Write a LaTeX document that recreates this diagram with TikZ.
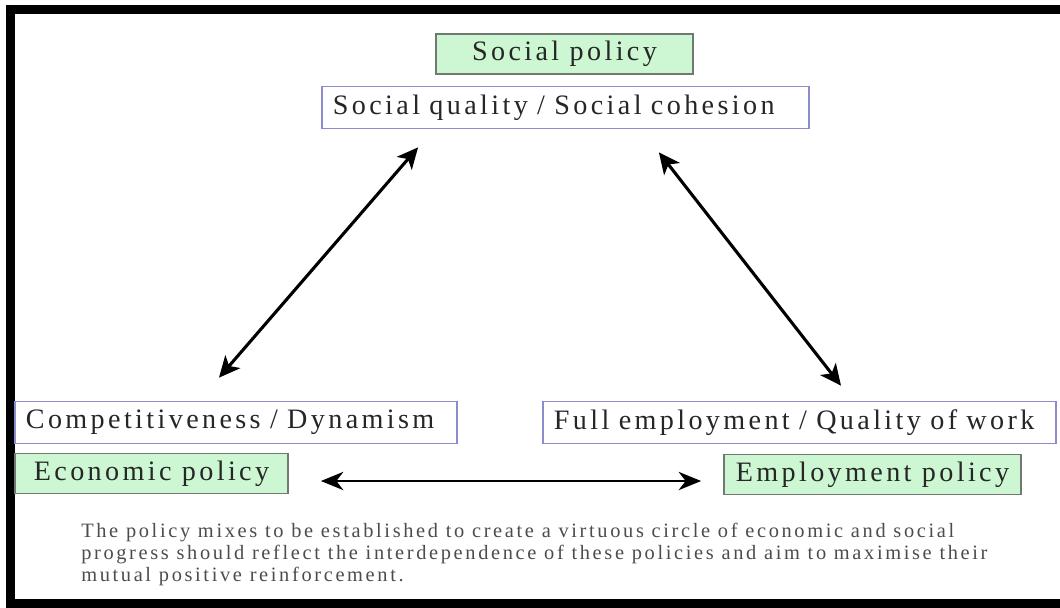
\documentclass[tikz,border=0pt]{standalone}
\usepackage{fontspec}
\setmainfont{Liberation Serif}
\usetikzlibrary{arrows.meta}
\definecolor{boxblue}{RGB}{140,140,205}
\definecolor{policygreen}{RGB}{204,247,210}
\definecolor{policyedge}{RGB}{112,122,112}
\tikzset{x=0.025cm, y=-0.025cm,
    every node/.style={
        inner sep=0pt,
        font=\fontsize{20}{23}\selectfont\addfontfeatures{LetterSpace=12},
        text=black!85},
    aimbox/.style={
        draw=boxblue,
        fill=white,
        line width=1.2pt,
        inner xsep=0.275cm,
        align=left,
        minimum height=1.05cm},
    policybox/.style={
        draw=policyedge,
        fill=policygreen,
        line width=1.2pt,
        minimum height=1.0cm},
    link/.style={
        <->,>={Stealth[length=15pt,width=14pt,inset=4pt]},
        line width=2.2pt},
    thinlink/.style={
        <->,>={Stealth[length=16pt,width=13pt,inset=5pt]},
        line width=1.5pt}}

\begin{document}
\begin{tikzpicture}
        \useasboundingbox (0,0) rectangle (1060,607);
        \draw[line width=6.4pt] (1075,9) -- (10.5,9) -- (10.5,603) -- (1075,603);

        \node[policybox, minimum width=6.425cm] (social) at (564.5,54) {Social policy};
        \node[aimbox, text width=11.625cm] (quality) at (565.5,107.5) {Social quality / Social cohesion};
        \node[aimbox, text width=10.5cm] (compet) at (236,422.5) {Competitiveness / Dynamism};
        \node[policybox, minimum width=6.825cm] (economic) at (151.5,473.5) {Economic policy};
        \node[aimbox, text width=12.275cm] (fullemp) at (799.5,422.5) {Full employment / Quality of work};
        \node[policybox, minimum width=7.425cm] (employ) at (872.5,474.5) {Employment policy};

        \node[anchor=north west, align=left, text=black!70,
              font=\fontsize{14.5}{15.6}\selectfont\addfontfeatures{LetterSpace=13}] (note) at (81,523)
              {The policy mixes to be established to create a virtuous circle of economic and social\\
               progress should reflect the interdependence of these policies and aim to maximise their\\
               mutual positive reinforcement.};

        \draw[link] ([shift={(-17,-23)}]compet.north) -- ([shift={(97,18)}]quality.south west);
        \draw[link] ([shift={(-151,23)}]quality.south east) -- ([shift={(41.5,-15)}]fullemp.north);
        \draw[thinlink] ([shift={(32,7.5)}]economic.east) -- ([shift={(-22,6.5)}]employ.west);
    \end{tikzpicture}
\end{document}
